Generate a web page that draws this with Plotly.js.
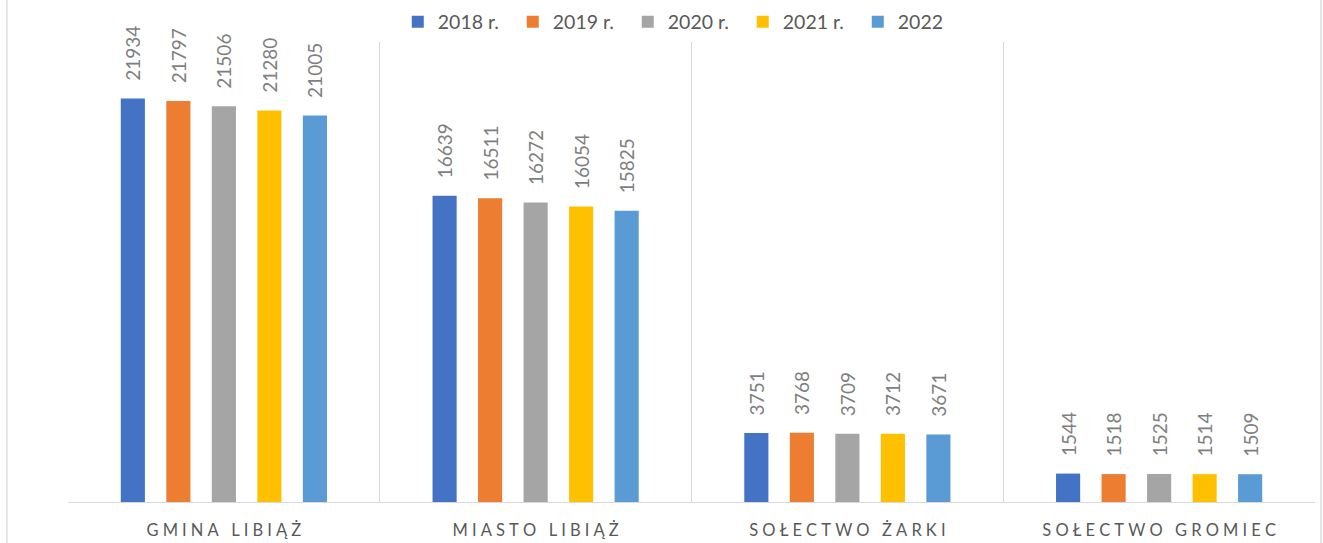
<!DOCTYPE html>
<html>
<head>
<meta charset="utf-8">
<script src="https://cdn.plot.ly/plotly-3.0.1.min.js"></script>
<style>html,body{margin:0;padding:0;background:#fff;}#chart{width:1323px;height:543px;}</style>
</head>
<body>
<div id="chart"></div>
<script>
const categories = ["GMINA LIBIĄŻ", "MIASTO LIBIĄŻ", "SOŁECTWO ŻARKI", "SOŁECTWO GROMIEC"];
const seriesNames = ["2018 r.", "2019 r.", "2020 r.", "2021 r.", "2022"];
const v2018 = [21934, 16639, 3751, 1544];
const v2019 = [21797, 16511, 3768, 1518];
const v2020 = [21506, 16272, 3709, 1525];
const v2021 = [21280, 16054, 3712, 1514];
const v2022 = [21005, 15825, 3671, 1509];
const seriesValues = [v2018, v2019, v2020, v2021, v2022];
const colors = ["#4472C4", "#ED7D31", "#A5A5A5", "#FFC000", "#5B9BD5"];

// letter-spaced category labels
const spaced = categories.map(c => Array.from(c).join("\u2005"));

const traces = seriesValues.map((vals, i) => ({
  type: "bar",
  name: seriesNames[i],
  x: spaced,
  y: vals,
  marker: {color: colors[i]},
  text: vals.map(String),
  texttemplate: "\u00A0\u00A0\u00A0%{text}",
  textposition: "outside",
  textangle: -90,
  constraintext: "none",
  cliponaxis: false,
  textfont: {family: "Lato, 'Open Sans', sans-serif", size: 19, color: "#7f7f7f"},
  hoverinfo: "x+y+name"
}));

const layout = {
  width: 1323,
  height: 543,
  margin: {l: 68, r: 8, t: 42, b: 41, autoexpand: false},
  paper_bgcolor: "#ffffff",
  plot_bgcolor: "#ffffff",
  font: {family: "Lato, 'Open Sans', sans-serif", color: "#595959"},
  barmode: "group",
  bargap: 0.27,
  bargroupgap: 0.47,
  showlegend: true,
  legend: {
    orientation: "h",
    x: 0.495, xanchor: "center",
    y: 1.0435, yanchor: "middle",
    font: {size: 19.5, color: "#595959"},
    itemwidth: 30,
    entrywidth: 70,
    entrywidthmode: "pixels",
    traceorder: "normal",
    bgcolor: "rgba(0,0,0,0)"
  },
  xaxis: {
    type: "category",
    tickson: "boundaries",
    showgrid: true,
    gridcolor: "#d9d9d9",
    gridwidth: 1.3,
    showline: true,
    linecolor: "#d9d9d9",
    linewidth: 1.3,
    ticks: "",
    ticklabelstandoff: 13,
    tickfont: {size: 16.5, color: "#595959"},
    fixedrange: true
  },
  yaxis: {
    range: [0, 25000],
    visible: false,
    showgrid: false,
    zeroline: false,
    fixedrange: true
  },
  shapes: [
    {type: "line", xref: "paper", yref: "paper", x0: -0.049, x1: -0.049, y0: -0.2, y1: 1.2, line: {color: "#d9d9d9", width: 1.3}},
    {type: "line", xref: "paper", yref: "paper", x0: 1.0048, x1: 1.0048, y0: -0.2, y1: 1.2, line: {color: "#d9d9d9", width: 1.3}}
  ]
};

Plotly.newPlot("chart", traces, layout, {displayModeBar: false, staticPlot: true});
</script>
</body>
</html>
